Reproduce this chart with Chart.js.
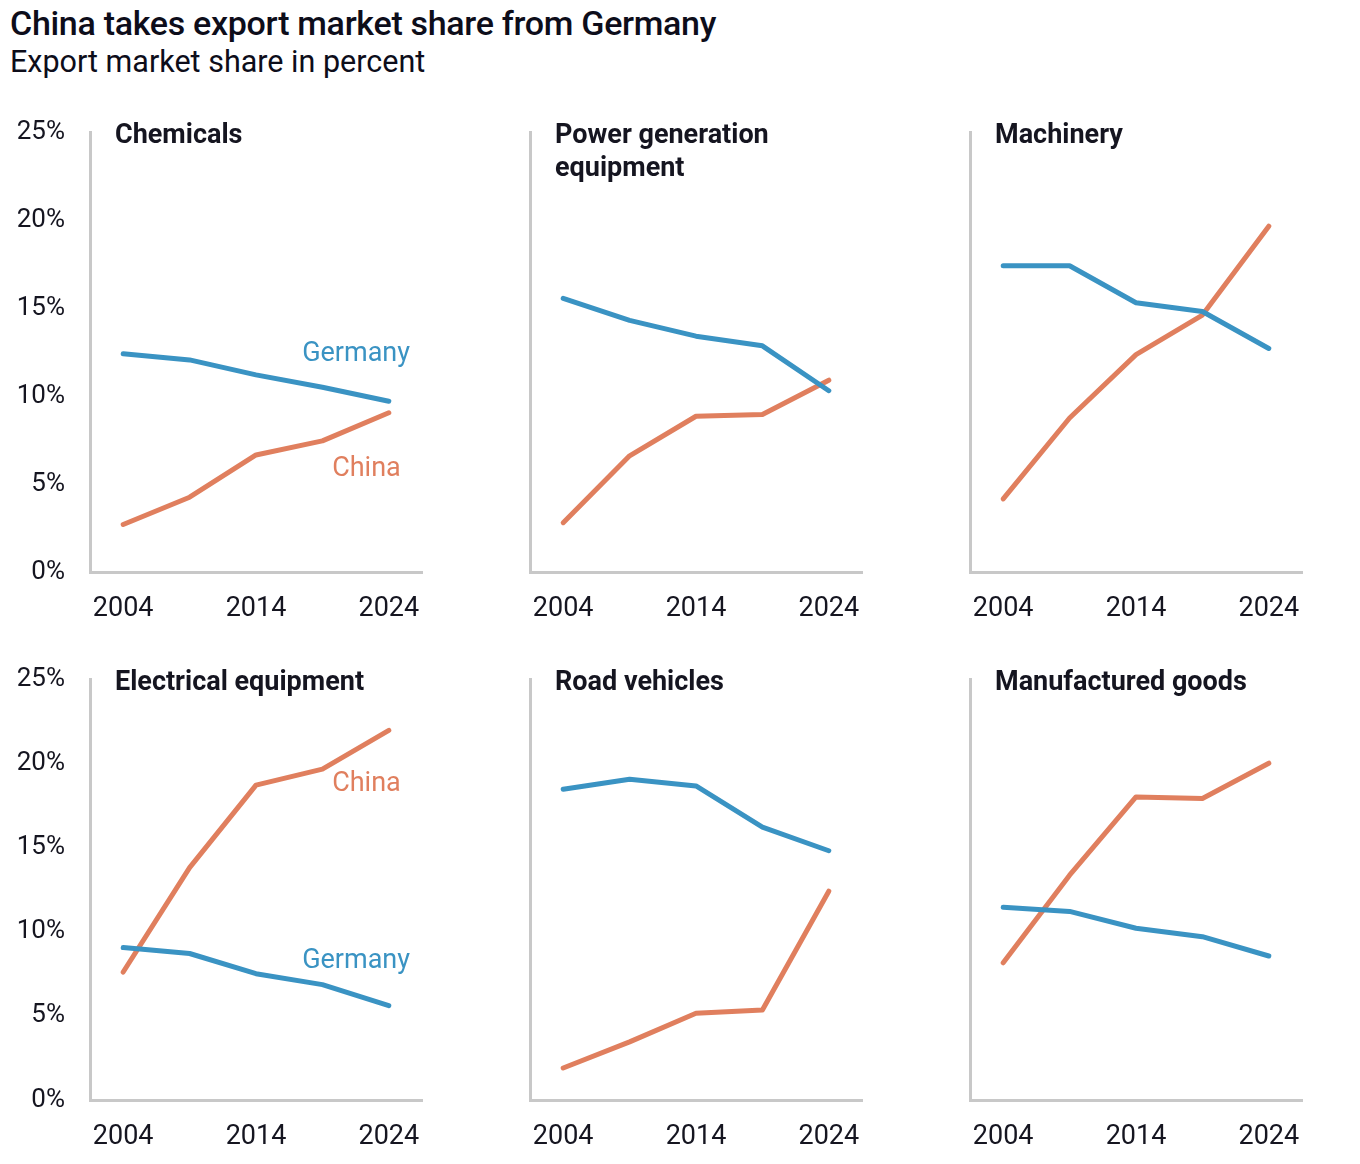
<!DOCTYPE html>
<html>
<head>
<meta charset="utf-8">
<script src="https://cdn.jsdelivr.net/npm/chart.js@4.4.1/dist/chart.umd.min.js"></script>
<style>
  body { margin: 0; background: #fff; font-family: Roboto, sans-serif; }
  #wrap { position: relative; width: 1360px; height: 1164px; }
  h1 { position: absolute; left: 10px; top: 2px; margin: 0; font-size: 34px; font-weight: 500; color: #0d0d1a; letter-spacing: -0.3px; line-height: 42px; }
  h2 { position: absolute; left: 10px; top: 43px; margin: 0; font-size: 30.5px; font-weight: 400; color: #0d0d1a; line-height: 38px; }
  .panel { position: absolute; width: 440px; }
  .top { top: 100px; height: 530px; }
  .bot { top: 647px; height: 511px; }
</style>
</head>
<body>
<div id="wrap">
  <h1>China takes export market share from Germany</h1>
  <h2>Export market share in percent</h2>
  <div class="panel top" style="left:0"><canvas id="c0"></canvas></div>
  <div class="panel top" style="left:440px"><canvas id="c1"></canvas></div>
  <div class="panel top" style="left:880px"><canvas id="c2"></canvas></div>
  <div class="panel bot" style="left:0"><canvas id="c3"></canvas></div>
  <div class="panel bot" style="left:440px"><canvas id="c4"></canvas></div>
  <div class="panel bot" style="left:880px"><canvas id="c5"></canvas></div>
</div>
<script>
// years of the data points
var years = [2004, 2009, 2014, 2019, 2024];
var yearTicks = [2004, 2014, 2024];
var pctTicks = [0, 5, 10, 15, 20, 25];

var panelTitles = [
  ['Chemicals'],
  ['Power generation', 'equipment'],
  ['Machinery'],
  ['Electrical equipment'],
  ['Road vehicles'],
  ['Manufactured goods']
];

// export market share in percent
var germanyChemicals = [12.4, 12.05, 11.2, 10.5, 9.7];
var chinaChemicals = [2.7, 4.25, 6.65, 7.45, 9.05];
var germanyPower = [15.55, 14.3, 13.4, 12.85, 10.3];
var chinaPower = [2.8, 6.6, 8.85, 8.95, 10.9];
var germanyMachinery = [17.4, 17.4, 15.3, 14.8, 12.7];
var chinaMachinery = [4.15, 8.75, 12.35, 14.6, 19.65];
var germanyElectrical = [9.05, 8.7, 7.5, 6.85, 5.6];
var chinaElectrical = [7.6, 13.8, 18.7, 19.65, 21.95];
var germanyRoad = [18.45, 19.05, 18.65, 16.2, 14.8];
var chinaRoad = [1.9, 3.45, 5.15, 5.35, 12.4];
var germanyManufactured = [11.45, 11.2, 10.2, 9.7, 8.55];
var chinaManufactured = [8.15, 13.35, 18.0, 17.9, 20.0];

var germanySeries = [germanyChemicals, germanyPower, germanyMachinery, germanyElectrical, germanyRoad, germanyManufactured];
var chinaSeries = [chinaChemicals, chinaPower, chinaMachinery, chinaElectrical, chinaRoad, chinaManufactured];

// series name labels (only in the first column) : [x, y] in data units, right aligned
var seriesLabels = {
  0: [{ text: 'Germany', x: 2025.6, y: 12.4, color: '#3a93c3' }, { text: 'China', x: 2024.9, y: 5.85, color: '#e07f5e' }],
  3: [{ text: 'Germany', x: 2025.6, y: 8.25, color: '#3a93c3' }, { text: 'China', x: 2024.9, y: 18.75, color: '#e07f5e' }]
};

var BLUE = '#3a93c3';
var ORANGE = '#e07f5e';
var AXIS = '#c8c8c8';
var TEXT = '#151520';

var panelText = {
  id: 'panelText',
  afterDatasetsDraw: function (chart, args, opts) {
    var ctx = chart.ctx;
    var a = chart.chartArea;
    ctx.save();
    ctx.fillStyle = TEXT;
    ctx.font = 'bold 27px Roboto';
    ctx.textAlign = 'left';
    ctx.textBaseline = 'middle';
    opts.title.forEach(function (line, i) {
      ctx.fillText(line, a.left + 25, a.top + 4 + i * 33);
    });
    ctx.font = '27px Roboto';
    ctx.textAlign = 'right';
    (opts.labels || []).forEach(function (l) {
      ctx.fillStyle = l.color;
      ctx.fillText(l.text, chart.scales.x.getPixelForValue(l.x), chart.scales.y.getPixelForValue(l.y));
    });
    ctx.restore();
  }
};

function makeChart(i) {
  var showY = (i % 3 === 0);
  var toXY = function (arr) {
    return arr.map(function (v, k) { return { x: years[k], y: v }; });
  };
  new Chart(document.getElementById('c' + i), {
    type: 'line',
    data: {
      datasets: [
        { label: 'Germany', data: toXY(germanySeries[i]), borderColor: BLUE, borderWidth: 5, pointRadius: 0, tension: 0, borderJoinStyle: 'round', borderCapStyle: 'round' },
        { label: 'China', data: toXY(chinaSeries[i]), borderColor: ORANGE, borderWidth: 5, pointRadius: 0, tension: 0, borderJoinStyle: 'round', borderCapStyle: 'round' }
      ]
    },
    plugins: [panelText],
    options: {
      responsive: true,
      maintainAspectRatio: false,
      animation: false,
      layout: { padding: { top: 32, right: 18, left: 0, bottom: 0 } },
      plugins: {
        legend: { display: false },
        tooltip: { enabled: false },
        panelText: { title: panelTitles[i], labels: seriesLabels[i] }
      },
      scales: {
        x: {
          type: 'linear',
          min: 2001.5,
          max: 2026.5,
          afterBuildTicks: function (s) { s.ticks = yearTicks.map(function (v) { return { value: v }; }); },
          // fixed height, and no label overflow so all panels line up
          afterFit: function (s) { s.height = 58; s.paddingLeft = 0; s.paddingRight = 0; },
          grid: { display: false, drawTicks: false },
          border: { display: true, color: AXIS, width: 3 },
          ticks: {
            color: TEXT, padding: 21, maxRotation: 0,
            font: { family: 'Roboto', size: 27 },
            callback: function (v) { return String(v); }
          }
        },
        y: {
          min: 0,
          max: 25,
          afterBuildTicks: function (s) { s.ticks = pctTicks.map(function (v) { return { value: v }; }); },
          afterFit: function (s) { s.width = 90; s.paddingTop = 0; s.paddingBottom = 0; },
          grid: { display: false, drawTicks: false },
          border: { display: true, color: AXIS, width: 3 },
          ticks: {
            color: showY ? TEXT : 'rgba(0,0,0,0)', padding: 25,
            font: { family: 'Roboto', size: 26 },
            callback: function (v) { return v + '%'; }
          }
        }
      }
    }
  });
}

for (var i = 0; i < 6; i++) makeChart(i);
</script>
</body>
</html>
